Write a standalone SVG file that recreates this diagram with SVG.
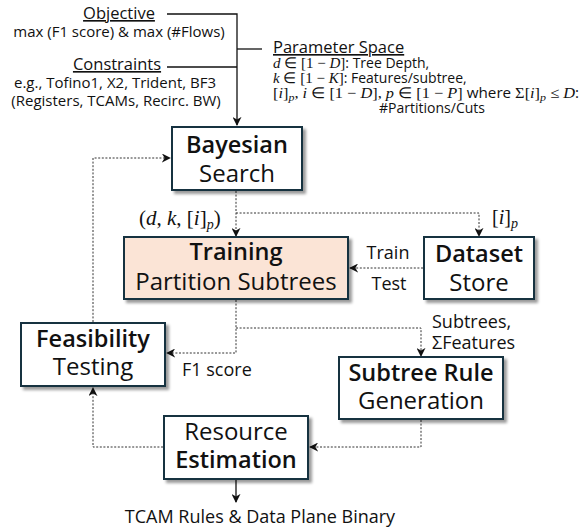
<svg xmlns="http://www.w3.org/2000/svg" width="582" height="529" viewBox="0 0 582 529">
<style>
text{font-family:"Open Sans","Noto Sans",sans-serif;fill:#111;}
.t{font-size:24px;text-anchor:middle;}
.b{font-weight:600;font-size:23.5px;}
.s{font-size:15px;}
.p{font-size:14px;}
.l{font-size:18px;}
.h{font-size:16.5px;text-decoration:underline;}
.m{font-family:"Liberation Serif",serif;font-style:italic;font-size:15px;}
.mr{font-family:"Liberation Serif",serif;font-size:15px;}
.box{fill:#fff;stroke:#17303f;stroke-width:2;filter:url(#sh);}
.d{fill:none;stroke:#333;stroke-width:1;stroke-dasharray:2,1.6;}
.so{fill:none;stroke:#111;stroke-width:1.3;}
</style>
<defs>
<filter id="sh" x="-20%" y="-20%" width="140%" height="150%">
<feGaussianBlur in="SourceAlpha" stdDeviation="1.8"/>
<feOffset dx="3" dy="3" result="o"/>
<feComponentTransfer><feFuncA type="linear" slope="0.4"/></feComponentTransfer>
<feMerge><feMergeNode/><feMergeNode in="SourceGraphic"/></feMerge>
</filter>
<marker id="ar" viewBox="0 0 10 10" refX="9" refY="5" markerWidth="9" markerHeight="9" markerUnits="userSpaceOnUse" orient="auto">
<path d="M0,0 L10,5 L0,10 L3,5 Z" fill="#111"/>
</marker>
</defs>

<g id="top-labels">
<text class="h" x="119" y="19" text-anchor="middle">Objective</text>
<text class="s" x="119" y="37" text-anchor="middle">max (F1 score) &amp; max (#Flows)</text>
<text class="h" x="117" y="70" text-anchor="middle">Constraints</text>
<text class="s" x="115" y="88" text-anchor="middle">e.g., Tofino1, X2, Trident, BF3</text>
<text class="s" x="116" y="106" text-anchor="middle">(Registers, TCAMs, Recirc. BW)</text>
<text class="h" x="273" y="53">Parameter Space</text>
<text class="p" x="273" y="68"><tspan class="m">d</tspan><tspan class="mr"> ∈ [1 − </tspan><tspan class="m">D</tspan><tspan class="mr">]</tspan>: Tree Depth,</text>
<text class="p" x="273" y="83"><tspan class="m">k</tspan><tspan class="mr"> ∈ [1 − </tspan><tspan class="m">K</tspan><tspan class="mr">]</tspan>: Features/subtree,</text>
<text class="p" x="273" y="98" textLength="306" lengthAdjust="spacingAndGlyphs"><tspan class="mr">[</tspan><tspan class="m">i</tspan><tspan class="mr">]</tspan><tspan class="m" style="font-size:11px" dy="3">p</tspan><tspan class="mr" dy="-3">, </tspan><tspan class="m">i</tspan><tspan class="mr"> ∈ [1 − </tspan><tspan class="m">D</tspan><tspan class="mr">], </tspan><tspan class="m">p</tspan><tspan class="mr"> ∈ [1 − </tspan><tspan class="m">P</tspan><tspan class="mr">]</tspan> where <tspan class="mr">Σ[</tspan><tspan class="m">i</tspan><tspan class="mr">]</tspan><tspan class="m" style="font-size:11px" dy="3">p</tspan><tspan class="mr" dy="-3"> ≤ </tspan><tspan class="m">D</tspan>:</text>
<text class="p" x="432" y="113" text-anchor="middle">#Partitions/Cuts</text>
</g>

<g id="connectors">
<path class="so" d="M167,14 H237 V125" marker-end="url(#ar)"/>
<path class="so" d="M167,67 H237"/>
<path class="so" d="M237,49 H262"/>
<path class="d" d="M236,191 V236" marker-end="url(#ar)"/>
<path class="d" d="M236,213 H479 V236" marker-end="url(#ar)"/>
<path class="d" d="M423,268 H350" marker-end="url(#ar)"/>
<path class="d" d="M236,300 V353 H167" marker-end="url(#ar)"/>
<path class="d" d="M236,328 H421 V356" marker-end="url(#ar)"/>
<path class="d" d="M421,420 V447 H310" marker-end="url(#ar)"/>
<path class="d" d="M163,447 H93 V388" marker-end="url(#ar)"/>
<path class="d" d="M93,322 V158 H170" marker-end="url(#ar)"/>
<path class="so" d="M236,480 V502" marker-end="url(#ar)"/>
</g>

<g id="edge-labels">
<text x="139" y="225" style="font-family:'Liberation Serif',serif;font-size:21px">(<tspan font-style="italic">d</tspan>, <tspan font-style="italic">k</tspan>, [<tspan font-style="italic">i</tspan>]<tspan font-style="italic" font-size="14" dy="4">p</tspan><tspan dy="-4">)</tspan></text>
<text x="492" y="224" style="font-family:'Liberation Serif',serif;font-size:20px">[<tspan font-style="italic">i</tspan>]<tspan font-style="italic" font-size="14" dy="4">p</tspan></text>
<text class="l" x="388" y="259" text-anchor="middle">Train</text>
<text class="l" x="389" y="290" text-anchor="middle">Test</text>
<text class="l" x="432" y="328">Subtrees,</text>
<text class="l" x="432" y="349">ΣFeatures</text>
<text class="l" x="182" y="376">F1 score</text>
<text class="l" x="260" y="523" text-anchor="middle">TCAM Rules &amp; Data Plane Binary</text>
</g>

<g id="bayesian">
<rect class="box" x="172" y="127" width="130" height="63"/>
<text class="t b" x="237" y="153">Bayesian</text>
<text class="t" x="237" y="182">Search</text>
</g>
<g id="training">
<rect class="box" x="124" y="237" width="224" height="62" style="fill:#fbe4d6"/>
<text class="t b" x="236" y="260">Training</text>
<text class="t" x="236" y="290">Partition Subtrees</text>
</g>
<g id="dataset">
<rect class="box" x="424" y="237" width="110" height="62"/>
<text class="t b" x="479" y="262">Dataset</text>
<text class="t" x="479" y="291">Store</text>
</g>
<g id="feasibility">
<rect class="box" x="21" y="323" width="144" height="63"/>
<text class="t b" x="93" y="347">Feasibility</text>
<text class="t" x="93" y="375">Testing</text>
</g>
<g id="subtree-rule">
<rect class="box" x="339" y="357" width="164" height="62"/>
<text class="t b" x="421" y="381">Subtree Rule</text>
<text class="t" x="421" y="409">Generation</text>
</g>
<g id="resource">
<rect class="box" x="164" y="416" width="144" height="63"/>
<text class="t" x="236" y="440">Resource</text>
<text class="t b" x="236" y="468">Estimation</text>
</g>
</svg>
